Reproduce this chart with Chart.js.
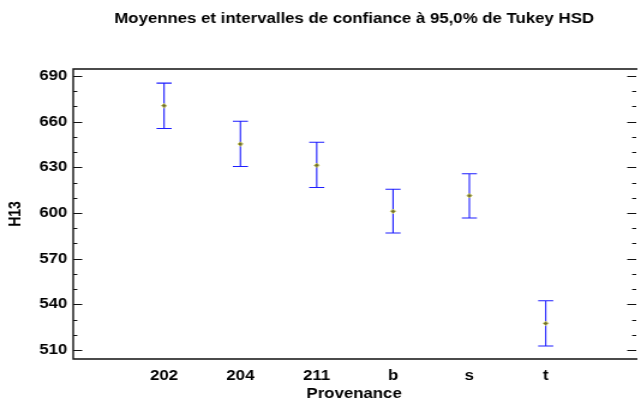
<!DOCTYPE html>
<html>
<head>
<meta charset="utf-8">
<script src="https://cdn.jsdelivr.net/npm/chart.js@4"></script>
<style>
  html, body { margin: 0; padding: 0; background: #fff; overflow: hidden; }
  /* le graphique est dessiné sur 534 px puis étiré à 641 px de large */
  #box { width: 534px; height: 402px; transform: scaleX(1.2004); transform-origin: 0 0; }
</style>
</head>
<body>
<div id="box"><canvas id="grafico"></canvas></div>
<script>
// Provenances et moyennes de H13 avec les bornes de l'intervalle HSD
const provenances = ['202', '204', '211', 'b', 's', 't'];
const moyennes = [670.5, 645.3, 631.3, 601.1, 611.4, 527.5];
const bornesInf = [655.5, 630.6, 616.8, 586.9, 596.7, 512.6];
const bornesSup = [685.3, 660.3, 646.5, 615.6, 625.8, 542.4];
const ticksY = [510, 540, 570, 600, 630, 660, 690];

const titre = 'Moyennes et intervalles de confiance à 95,0% de Tukey HSD';
const police = '"Liberation Sans", Arial, sans-serif';

Chart.defaults.font.family = police;
Chart.defaults.color = '#000';

// barres d'erreur, cadre, petites graduations et titre
const dessins = {
    id: 'dessins',
    beforeDatasetsDraw(chart) {
        const ctx = chart.ctx;
        const x = chart.scales.x, y = chart.scales.y;
        ctx.save();
        ctx.strokeStyle = 'rgb(30,30,255)';
        ctx.lineWidth = 1.1;
        provenances.forEach((p, i) => {
            const px = x.getPixelForValue(i);
            const yb = y.getPixelForValue(bornesInf[i]);
            const yh = y.getPixelForValue(bornesSup[i]);
            ctx.beginPath();
            ctx.moveTo(px, yb); ctx.lineTo(px, yh);
            ctx.moveTo(px - 6.3, yb); ctx.lineTo(px + 6.3, yb);
            ctx.moveTo(px - 6.3, yh); ctx.lineTo(px + 6.3, yh);
            ctx.stroke();
        });
        ctx.restore();
    },
    afterDraw(chart) {
        const ctx = chart.ctx;
        const a = chart.chartArea;
        const y = chart.scales.y;
        ctx.save();
        ctx.strokeStyle = '#111';
        ctx.lineWidth = 1.4;
        ctx.beginPath();
        ctx.moveTo(a.right + 2, a.top);
        ctx.lineTo(a.left, a.top);
        ctx.lineTo(a.left, a.bottom);
        ctx.lineTo(a.right + 2, a.bottom);
        ctx.stroke();

        ctx.lineWidth = 1.2;
        const droite = a.right + 1;
        for (let v = ticksY[0]; v <= ticksY[ticksY.length - 1]; v += 10) {
            const py = Math.round(y.getPixelForValue(v)) + 0.5;
            const l = ticksY.includes(v) ? 7.5 : 3.4;
            ctx.beginPath();
            ctx.moveTo(a.left, py); ctx.lineTo(a.left + l, py);
            ctx.moveTo(droite, py); ctx.lineTo(droite - l, py);
            ctx.stroke();
        }

        ctx.font = 'bold 14px ' + police;
        ctx.fillStyle = '#000';
        ctx.textAlign = 'center';
        ctx.textBaseline = 'middle';
        ctx.fillText(titre, (a.left + a.right) / 2, 19.5);
        ctx.restore();
    }
};

new Chart('grafico', {
    type: 'scatter',
    data: {
        datasets: [{
            label: 'H13',
            data: moyennes.map((m, i) => ({ x: i, y: m })),
            pointStyle: 'rectRot',
            pointRadius: 2.2,
            pointBackgroundColor: '#6f6f30',
            pointBorderColor: '#c9c760',
            pointBorderWidth: 1
        }]
    },
    options: {
        responsive: true,
        maintainAspectRatio: false,
        animation: false,
        layout: { padding: { top: 69, right: 0, left: 0, bottom: 0 } },
        plugins: {
            legend: { display: false },
            tooltip: { enabled: false }
        },
        scales: {
            x: {
                type: 'linear',
                min: -1.19,
                max: 6.17,
                afterFit: (s) => { s.height = 43; },
                border: { display: false },
                grid: { display: false, drawTicks: false },
                ticks: {
                    stepSize: 1,
                    includeBounds: false,
                    autoSkip: false,
                    maxRotation: 0,
                    padding: 9,
                    font: { size: 14, weight: 'bold' },
                    callback: (v) => provenances[v] ?? ''
                },
                title: {
                    display: true,
                    text: 'Provenance',
                    font: { size: 14, weight: 'bold' },
                    padding: { top: 0, bottom: -1 }
                }
            },
            y: {
                min: 504.1,
                max: 694.6,
                afterFit: (s) => { s.width = 61; },
                border: { display: false },
                grid: { display: false, drawTicks: false },
                ticks: {
                    stepSize: 30,
                    includeBounds: false,
                    padding: 5,
                    font: { size: 14, weight: 'bold' }
                },
                title: {
                    display: true,
                    text: 'H13',
                    font: { size: 14, weight: 'bold' },
                    padding: { top: 5, bottom: 0 }
                }
            }
        }
    },
    plugins: [dessins]
});
</script>
</body>
</html>
